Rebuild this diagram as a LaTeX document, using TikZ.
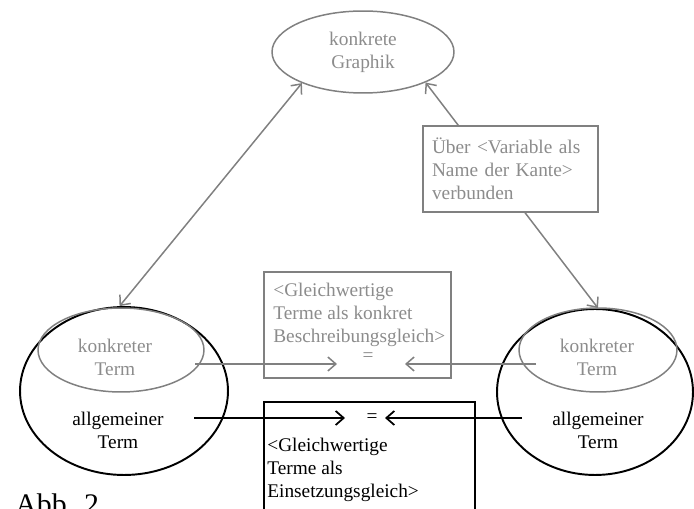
\documentclass[tikz,border=0pt]{standalone}
\usepackage{fontspec}
\setmainfont{Liberation Serif}
\usetikzlibrary{arrows.meta,shapes,positioning}
\definecolor{lineGray}{gray}{0.5}
\definecolor{textGray}{gray}{0.55}

\begin{document}
\begin{tikzpicture}[x=0.02cm,y=-0.02cm,>={Straight Barb[length=1.6mm,width=2.8mm]},
        font=\fontsize{11}{13}\selectfont,
        grayell/.style={draw=lineGray,ellipse,line width=0.85pt},
        blackell/.style={draw=black,ellipse,line width=1.1pt},
        graybox/.style={draw=lineGray,rectangle,line width=0.85pt,fill=white},
        blackbox/.style={draw=black,rectangle,line width=1.1pt},
        grayline/.style={draw=lineGray,line width=0.85pt},
        blackline/.style={draw=black,line width=1pt},
        graytext/.style={text=textGray,align=center},
        blacktext/.style={text=black,align=center}]
        \clip (0,0) rectangle (694,509);

        % ellipses
        \node[grayell, minimum width=3.64cm, minimum height=1.64cm, graytext] (graphik) at (363,52) {konkrete\\Graphik};
        \node[blackell, minimum width=4.16cm, minimum height=3.36cm] (termL) at (124,391) {};
        \node[grayell, minimum width=3.32cm, minimum height=1.68cm] (konkL) at (121,350) {};
        \node[blackell, minimum width=3.92cm, minimum height=3.32cm] (termR) at (595,392) {};
        \node[grayell, minimum width=3.16cm, minimum height=1.68cm] (konkR) at (598,350) {};
        \node[graytext] (konkLT) at (115,357) {konkreter\\Term};
        \node[graytext] (konkRT) at (597,357) {konkreter\\Term};
        \node[blacktext] (allgLT) at (118,430) {allgemeiner\\Term};
        \node[blacktext] (allgRT) at (598,430) {allgemeiner\\Term};

        % diagonals
        \draw[grayline,<->] (graphik.207) -- (termL.93);
        \draw[grayline,<->] (graphik.334) -- (termR.88);
        \node[graybox, minimum width=3.5cm, minimum height=1.72cm, text width=3.14cm, inner xsep=0.18cm,
              align=left, text=textGray] (ueber) at (510.5,169) {Über <Variable als\\Name der Kante>\\verbunden};

        % boxes in the middle
        \node[graybox, minimum width=3.74cm, minimum height=2.12cm] (besch) at (357.5,325) {};
        \node[anchor=north west, align=left, inner sep=0, text=textGray] (beschT) at (273,283) {<Gleichwertige\\Terme als konkret\\Beschreibungsgleich>};
        \node[text=textGray] (eqB) at (368,357) {=};
        \node[blackbox, minimum width=4.22cm, minimum height=2.36cm] (einsetz) at (369.5,461) {};
        \node[anchor=north west, align=left, inner sep=0] (einsetzT) at (267,438) {<Gleichwertige\\Terme als\\Einsetzungsgleich>};
        \node (eqE) at (372,418) {=};

        \coordinate (gLs) at (195,364);
        \coordinate (gLe) at (337,364);
        \coordinate (gRs) at (536,364);
        \coordinate (gRe) at (405,364);
        \coordinate (bLs) at (194,418);
        \coordinate (bLe) at (345,418);
        \coordinate (bRs) at (522,418);
        \coordinate (bRe) at (385,418);
        \draw[grayline,->] (gLs) -- (gLe);
        \draw[grayline,->] (gRs) -- (gRe);
        \draw[blackline,->] (bLs) -- (bLe);
        \draw[blackline,->] (bRs) -- (bRe);

        \node[font=\fontsize{17}{20}\selectfont, anchor=base west, inner sep=0] (abb) at (15,515) {Abb. 2};
    \end{tikzpicture}
\end{document}
